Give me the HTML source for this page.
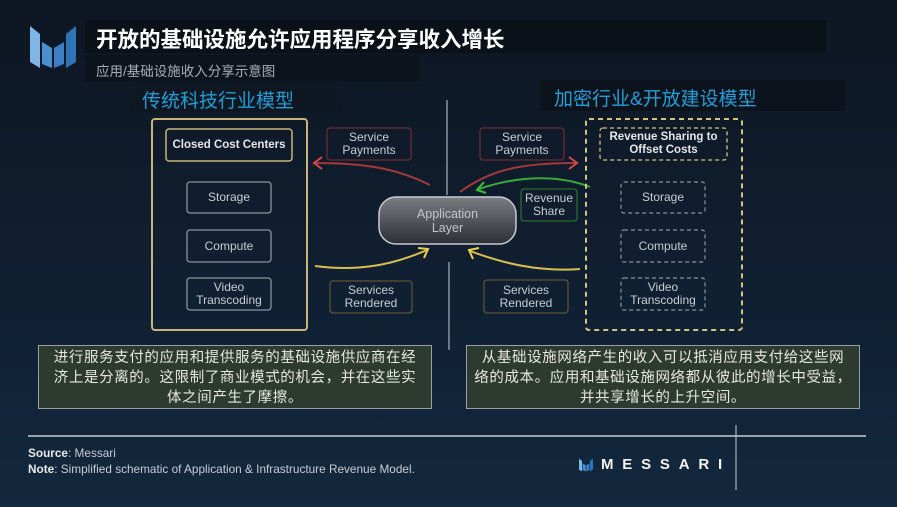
<!DOCTYPE html>
<html><head><meta charset="utf-8"><style>
*{margin:0;padding:0;box-sizing:border-box}
body{width:897px;height:507px;overflow:hidden;background:linear-gradient(180deg,#0e1622 0%,#102033 60%,#13283e 100%);font-family:"Liberation Sans","Noto Sans CJK SC",sans-serif;position:relative}
.a{position:absolute}
.bx{position:absolute;display:flex;align-items:center;justify-content:center;text-align:center;font-size:12px;line-height:13px;color:#c9ccd2}
.cn{font-family:"Liberation Sans","Noto Sans CJK SC",sans-serif}
.tb{position:absolute;top:345px;width:394px;height:64px;background:#2d3a30;border:1px solid #9aa0a0;color:#e8e8e0;font-size:14.5px;letter-spacing:0.6px;line-height:20px;text-align:center;padding-top:2px;white-space:nowrap}
</style></head><body>
<div class="a" style="left:85px;top:20px;width:741px;height:33px;background:#0b1119"></div>
<div class="a" style="left:85px;top:55px;width:335px;height:26px;background:#0c131c"></div>
<div class="a" style="left:540px;top:80px;width:305px;height:31px;background:#0c131c"></div>
<div class="a" style="left:130px;top:84px;width:212px;height:28px;background:#0e1722"></div>
<svg class="a" style="left:28px;top:24px" width="50" height="46" viewBox="0 0 50 46">
<polygon points="2,2 12,10 12,44 2,38" fill="#7fb6e6"/>
<polygon points="14,18 24,24 24,44 14,40" fill="#4a8fd0"/>
<polygon points="26,24 36,18 36,40 26,44" fill="#3b7fc4"/>
<polygon points="38,10 48,2 48,38 38,44" fill="#2f73b8"/>
</svg>
<div class="a cn" style="left:96px;top:23px;font-size:21.5px;font-weight:bold;color:#fff">开放的基础设施允许应用程序分享收入增长</div>
<div class="a cn" style="left:96px;top:60px;font-size:13.5px;color:#a9adb3">应用/基础设施收入分享示意图</div>
<div class="a cn" style="left:142px;top:86px;font-size:19px;color:#1e9fd8">传统科技行业模型</div>
<div class="a cn" style="left:554px;top:84px;font-size:19px;color:#1e9fd8">加密行业&amp;开放建设模型</div>

<svg class="a" style="left:0;top:0" width="897" height="507">
<defs><linearGradient id="g" x1="0" y1="0" x2="0" y2="1"><stop offset="0" stop-color="#7a7d82"/><stop offset="1" stop-color="#2a2e35"/></linearGradient></defs>
<line x1="447" y1="100" x2="447" y2="195" stroke="#8a93a0" stroke-width="1.5"/>
<line x1="449" y1="262" x2="449" y2="350" stroke="#8a93a0" stroke-width="1.5"/>
<path d="M430,185 C400,170 370,163 316,163" fill="none" stroke="#c84040" stroke-width="2" stroke-opacity="0.8"/>
<path d="M322,157 L314,163 L322,169" fill="none" stroke="#d84848" stroke-width="2"/>
<path d="M460,192 C490,170 520,163 575,163" fill="none" stroke="#c84040" stroke-width="2" stroke-opacity="0.8"/>
<path d="M569,157 L577,163 L569,169" fill="none" stroke="#d84848" stroke-width="2"/>
<path d="M590,187 C560,175 520,175 479,189" fill="none" stroke="#3aa83a" stroke-width="2"/>
<path d="M484,182 L477,190 L486,193" fill="none" stroke="#3cc03c" stroke-width="2"/>
<path d="M315,266 C360,272 395,264 427,250" fill="none" stroke="#d8c050" stroke-width="2"/>
<path d="M418,248 L428,249 L424,258" fill="none" stroke="#e8d050" stroke-width="2"/>
<path d="M580,269 C540,272 505,264 470,251" fill="none" stroke="#d8c050" stroke-width="2"/>
<path d="M473,259 L469,250 L479,248" fill="none" stroke="#e8d050" stroke-width="2"/>
<rect x="152" y="119" width="155" height="211" rx="3" fill="none" stroke="#c7b57c" stroke-width="2"/>
<rect x="166" y="129" width="126" height="32" rx="3" fill="none" stroke="#c7b57c" stroke-width="1.5"/>
<rect x="187" y="182" width="84" height="31" rx="3" fill="none" stroke="#8b929c" stroke-width="1.3"/>
<rect x="187" y="230" width="84" height="32" rx="3" fill="none" stroke="#8b929c" stroke-width="1.3"/>
<rect x="187" y="278" width="84" height="32" rx="3" fill="none" stroke="#8b929c" stroke-width="1.3"/>
<rect x="327" y="128" width="84" height="32" rx="3" fill="none" stroke="#6a2a30" stroke-width="1.3"/>
<rect x="480" y="128" width="84" height="32" rx="3" fill="none" stroke="#6a2a30" stroke-width="1.3"/>
<rect x="521" y="189" width="56" height="32" rx="3" fill="none" stroke="#2a6a2e" stroke-width="1.3"/>
<rect x="330" y="281" width="82" height="32" rx="3" fill="none" stroke="#5c5230" stroke-width="1.3"/>
<rect x="484" y="280" width="84" height="33" rx="3" fill="none" stroke="#5c5230" stroke-width="1.3"/>
<rect x="379" y="197" width="137" height="47" rx="17" fill="url(#g)" stroke="#c8ccd2" stroke-width="1.5"/>
<rect x="586" y="119" width="156" height="211" rx="3" fill="none" stroke="#d6c47e" stroke-width="2" stroke-dasharray="5,4"/>
<rect x="600" y="128" width="127" height="32" rx="3" fill="none" stroke="#d6c47e" stroke-width="1.3" stroke-dasharray="4,3"/>
<rect x="621" y="182" width="84" height="31" rx="3" fill="none" stroke="#8b929c" stroke-width="1.2" stroke-dasharray="4,3"/>
<rect x="621" y="230" width="84" height="32" rx="3" fill="none" stroke="#8b929c" stroke-width="1.2" stroke-dasharray="4,3"/>
<rect x="621" y="278" width="84" height="32" rx="3" fill="none" stroke="#8b929c" stroke-width="1.2" stroke-dasharray="4,3"/>
<line x1="28" y1="436" x2="866" y2="436" stroke="#c8ccd2" stroke-width="1.5"/>
<line x1="736" y1="425" x2="736" y2="490" stroke="#c8ccd2" stroke-width="1"/>
</svg>

<div class="bx" style="left:166px;top:129px;width:126px;height:32px;font-weight:bold;font-size:11.5px;color:#e6e6e6">Closed Cost Centers</div>
<div class="bx" style="left:187px;top:182px;width:84px;height:31px">Storage</div>
<div class="bx" style="left:187px;top:230px;width:84px;height:32px">Compute</div>
<div class="bx" style="left:187px;top:278px;width:84px;height:32px">Video<br>Transcoding</div>
<div class="bx" style="left:327px;top:128px;width:84px;height:32px">Service<br>Payments</div>
<div class="bx" style="left:480px;top:128px;width:84px;height:32px">Service<br>Payments</div>
<div class="bx" style="left:521px;top:189px;width:56px;height:32px">Revenue<br>Share</div>
<div class="bx" style="left:330px;top:281px;width:82px;height:32px">Services<br>Rendered</div>
<div class="bx" style="left:484px;top:280px;width:84px;height:33px">Services<br>Rendered</div>
<div class="bx" style="left:379px;top:197px;width:137px;height:47px;color:#c2c6cc;font-size:12.5px;line-height:14px">Application<br>Layer</div>
<div class="bx" style="left:600px;top:128px;width:127px;height:32px;font-weight:bold;font-size:11.5px;color:#e6e6e6">Revenue Sharing to<br>Offset Costs</div>
<div class="bx" style="left:621px;top:182px;width:84px;height:31px">Storage</div>
<div class="bx" style="left:621px;top:230px;width:84px;height:32px">Compute</div>
<div class="bx" style="left:621px;top:278px;width:84px;height:32px">Video<br>Transcoding</div>

<div class="tb cn" style="left:38px">进行服务支付的应用和提供服务的基础设施供应商在经<br>济上是分离的。这限制了商业模式的机会，并在这些实<br>体之间产生了摩擦。</div>
<div class="tb cn" style="left:466px">从基础设施网络产生的收入可以抵消应用支付给这些网<br>络的成本。应用和基础设施网络都从彼此的增长中受益，<br>并共享增长的上升空间。</div>

<div class="a" style="left:28px;top:446px;font-size:11.8px;color:#c8ccd2"><b style="color:#e8e8e8">Source</b>: Messari</div>
<div class="a" style="left:28px;top:462px;font-size:11.8px;color:#c8ccd2"><b style="color:#e8e8e8">Note</b>: Simplified schematic of Application &amp; Infrastructure Revenue Model.</div>
<svg class="a" style="left:577px;top:458px" width="18" height="14" viewBox="0 0 50 46">
<polygon points="2,2 12,10 12,44 2,38" fill="#7fb6e6"/><polygon points="14,18 24,24 24,44 14,40" fill="#4a8fd0"/><polygon points="26,24 36,18 36,40 26,44" fill="#3b7fc4"/><polygon points="38,10 48,2 48,38 38,44" fill="#2f73b8"/></svg>
<div class="a" style="left:601px;top:456px;font-size:15px;font-weight:bold;color:#f2f2f2;letter-spacing:8.8px">MESSARI</div>
</body></html>
